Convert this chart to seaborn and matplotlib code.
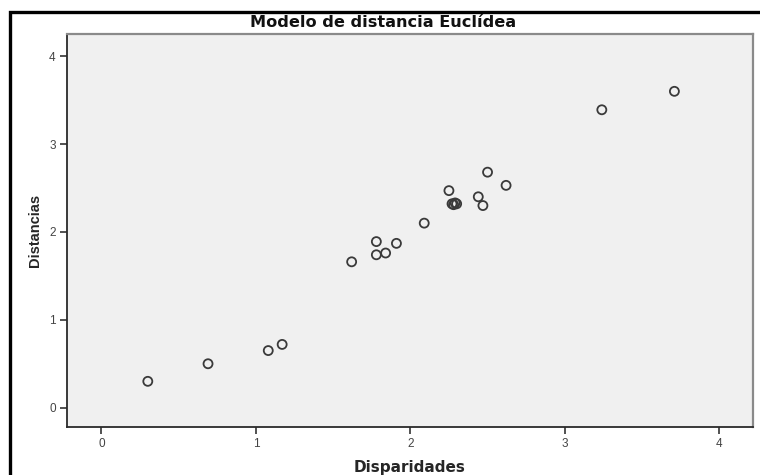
import matplotlib
matplotlib.use("Agg")
import matplotlib.pyplot as plt
import seaborn as sns
import pandas as pd
from matplotlib.patches import Rectangle

# Disparities vs. distances from the Euclidean distance model
disparidades = [0.30, 0.69, 1.08, 1.17, 1.62, 1.78, 1.78, 1.84, 1.91, 2.09,
                2.25, 2.27, 2.29, 2.30, 2.28, 2.44, 2.47, 2.50, 2.62, 3.24, 3.71]
distancias = [0.30, 0.50, 0.65, 0.72, 1.66, 1.74, 1.89, 1.76, 1.87, 2.10,
              2.47, 2.32, 2.33, 2.32, 2.31, 2.40, 2.30, 2.68, 2.53, 3.39, 3.60]
ticks = [0, 1, 2, 3, 4]

df = pd.DataFrame({"Disparidades": disparidades, "Distancias": distancias})

sns.set_style("white")
plt.rcParams["font.family"] = ["Liberation Sans", "DejaVu Sans"]

fig = plt.figure(figsize=(7.6, 4.75), dpi=100)
ax = fig.add_axes([0.088, 0.101, 0.903, 0.827])
ax.set_facecolor("#f0f0f0")

sns.scatterplot(data=df, x="Disparidades", y="Distancias", ax=ax,
                marker="o", s=42, facecolor="none", edgecolor="#3a3a3a",
                linewidth=1.3)

ax.set_xlim(-0.224, 4.22)
ax.set_ylim(-0.22, 4.25)
ax.set_xticks(ticks)
ax.set_yticks(ticks)
ax.tick_params(axis="both", which="major", direction="out", length=5,
               width=1.2, color="#333333", labelsize=8.5, labelcolor="#444444",
               pad=3, bottom=True, left=True)

for side in ("left", "bottom"):
    ax.spines[side].set_color("#2a2a2a")
    ax.spines[side].set_linewidth(1.3)
for side in ("top", "right"):
    ax.spines[side].set_color("#8a8a8a")
    ax.spines[side].set_linewidth(1.6)

ax.set_xlabel("Disparidades", fontsize=11, fontweight="bold", labelpad=7,
              family=["DejaVu Sans"])
ax.set_ylabel("Distancias", fontsize=10.5, fontweight="bold", labelpad=5)

fig.text(0.504, 0.953, "Modelo de distancia Euclídea", ha="center",
         va="center", fontsize=11.6, fontweight="bold", color="#111111",
         family=["DejaVu Sans"])

# Outer chart frame (left and top edges visible)
frame = Rectangle((10 / 760, -0.1), 1.2, 1.1 - 12 / 475,
                  transform=fig.transFigure, fill=False, edgecolor="black",
                  linewidth=2.4, clip_on=False)
fig.patches.append(frame)

fig.savefig("out.png", dpi=100, facecolor="white")
